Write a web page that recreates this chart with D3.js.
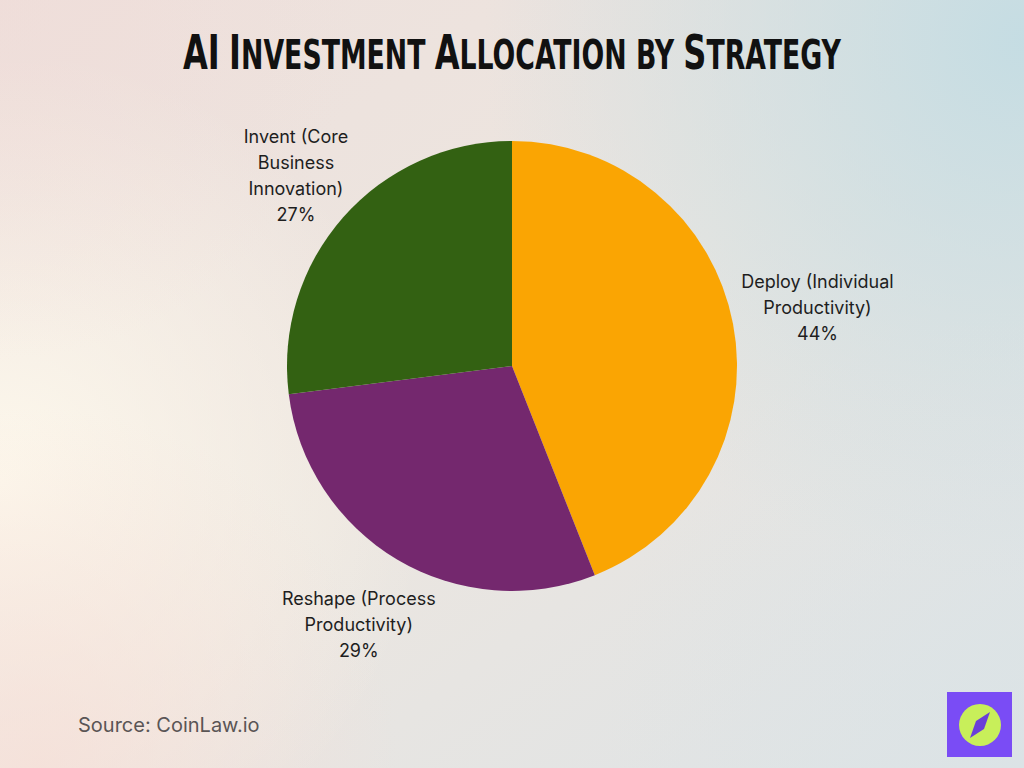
<!DOCTYPE html>
<html><head><meta charset="utf-8">
<script src="https://cdn.jsdelivr.net/npm/d3@7"></script>
<style>html,body{margin:0;padding:0;overflow:hidden;}svg{display:block;}</style>
</head><body>
<svg id="chart" width="1024" height="768"></svg>
<script>
const categories = ["Deploy (Individual Productivity)", "Reshape (Process Productivity)", "Invent (Core Business Innovation)"];
const labelLines = [["Deploy (Individual", "Productivity)"], ["Reshape (Process", "Productivity)"], ["Invent (Core", "Business", "Innovation)"]];
const values = [44, 29, 27];
const colors = ["#FAA503", "#74286E", "#336112"];
const titleText = "AI Investment Allocation by Strategy";

const svg = d3.select("#chart");
const W = 1024, H = 768;
const defs = svg.append("defs");

// background gradients
const base = defs.append("linearGradient").attr("id","bgBase").attr("x1","0").attr("y1","0").attr("x2","1").attr("y2","1");
base.append("stop").attr("offset","0").attr("stop-color","#eee0dc");
base.append("stop").attr("offset","0.5").attr("stop-color","#ece6e0");
base.append("stop").attr("offset","1").attr("stop-color","#dde3e6");
svg.append("rect").attr("width",W).attr("height",H).attr("fill","url(#bgBase)");
function radial(id, cx, cy, r, color, op){
  const g = defs.append("radialGradient").attr("id",id).attr("gradientUnits","userSpaceOnUse")
    .attr("cx",cx).attr("cy",cy).attr("r",r);
  g.append("stop").attr("offset","0").attr("stop-color",color).attr("stop-opacity",op);
  g.append("stop").attr("offset","1").attr("stop-color",color).attr("stop-opacity",0);
  svg.append("rect").attr("width",W).attr("height",H).attr("fill",`url(#${id})`);
}
radial("rTR", 1024, 40, 540, "#c3dce3", 0.95);
radial("rL", 0, 480, 430, "#fdf8ec", 1);
radial("rBL", 40, 768, 360, "#f6ddd6", 0.7);
radial("rTL", 0, 0, 360, "#f0dcd8", 0.6);
radial("rBR", 1024, 720, 420, "#dae3e6", 0.6);

// title (manual small caps, grouped runs)
const tg = svg.append("g");
const title = tg.append("text").attr("x",0).attr("y",0)
  .attr("font-family","'DejaVu Sans Condensed','Liberation Sans Narrow',sans-serif")
  .attr("font-weight","bold").attr("fill","#111");
const runs = [];
[...titleText].forEach(ch=>{
  const big = ch !== " " && ch === ch.toUpperCase();
  const last = runs[runs.length-1];
  if (last && last.big === big) last.s += ch; else runs.push({big, s: ch});
});
runs.forEach(r=> title.append("tspan").attr("font-size", r.big ? 48 : 40).text(r.s.toUpperCase()));
const tw = title.node().getComputedTextLength();
const sx = 658 / tw;
tg.attr("transform", `translate(${512 - 329},69) scale(${sx},1)`);

// pie
const cx = 512, cy = 366, R = 225;
const pie = d3.pie().sort(null).value(d => d)(values);
const arc = d3.arc().innerRadius(0).outerRadius(R);
const labelR = [311, 301, 288];
const g = svg.append("g").attr("transform",`translate(${cx},${cy})`);
g.selectAll("path").data(pie).join("path")
  .attr("d",arc).attr("fill",(d,i)=>colors[i]);

const lh = 26;
g.selectAll("text.lbl").data(pie).join("text").attr("class","lbl")
  .attr("text-anchor","middle")
  .attr("font-family","Inter, 'Open Sans', sans-serif")
  .attr("font-size",18).attr("fill","#1e1e1e")
  .each(function(d,i){
    const [x,y] = d3.arc().innerRadius(labelR[i]).outerRadius(labelR[i]).centroid(d);
    const lines = labelLines[i].concat([values[i] + "%"]);
    const y0 = y - (lines.length-1)*lh/2 + 6;
    const t = d3.select(this);
    lines.forEach((ln,k)=>{
      t.append("tspan").attr("x",x).attr("y",y0 + k*lh).text(ln);
    });
  });

// source
svg.append("text").attr("x",78).attr("y",732)
  .attr("font-family","Inter, 'Open Sans', sans-serif").attr("font-size",20)
  .attr("fill","#5a5555").text("Source: CoinLaw.io");

// logo
const lg = svg.append("g").attr("transform","translate(947,692)");
lg.append("rect").attr("width",65).attr("height",65).attr("fill","#7a4cf5");
lg.append("circle").attr("cx",33).attr("cy",33).attr("r",21).attr("fill","#c8ef5a");
lg.append("path").attr("d","M43,20 L37,37 L23,46 L29,29 Z").attr("fill","#6a3fd8");
</script>
</body></html>
